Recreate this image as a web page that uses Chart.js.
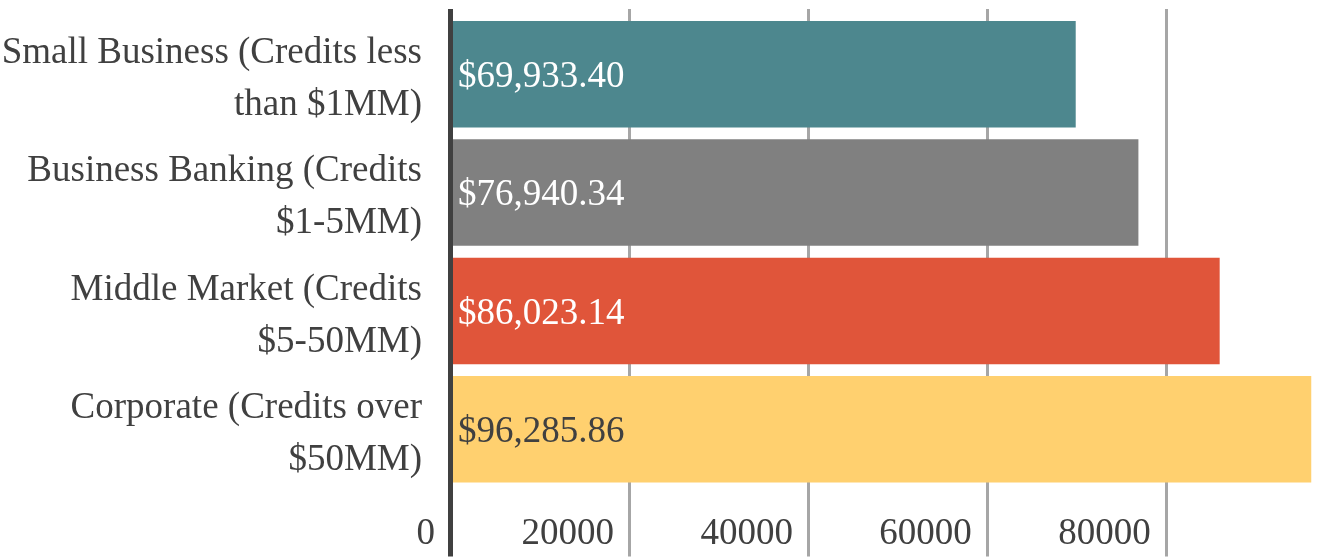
<!DOCTYPE html>
<html>
<head>
<meta charset="utf-8">
<script src="https://cdn.jsdelivr.net/npm/chart.js@4"></script>
<style>
  html, body { margin: 0; padding: 0; background: #fff; }
</style>
</head>
<body>
<canvas id="creditChart" width="1322" height="559"></canvas>
<script>
// data
const categories = [
    ['Small Business (Credits less', 'than $1MM)'],
    ['Business Banking (Credits', '$1-5MM)'],
    ['Middle Market (Credits', '$5-50MM)'],
    ['Corporate (Credits over', '$50MM)']
];
const amounts = [69933.40, 76940.34, 86023.14, 96285.86];
const amountLabels = ['$69,933.40', '$76,940.34', '$86,023.14', '$96,285.86'];
const xTicks = [0, 20000, 40000, 60000, 80000];

const barColors = ['#4d878e', '#808080', '#e0553a', '#ffd06f'];
const valueColors = ['#ffffff', '#ffffff', '#ffffff', '#404040'];
const textColor = '#404040';
const fontFamily = '"Liberation Serif", "DejaVu Serif", serif';
const fontSize = 37;

// gridlines reach above and below the plot, axis line sits on top of the bars
const gridAndLabels = {
    id: 'gridAndLabels',
    beforeDatasetsDraw(chart) {
        const { ctx, chartArea, scales: { x } } = chart;
        ctx.save();
        ctx.strokeStyle = '#a6a6a6';
        ctx.lineWidth = 3;
        xTicks.forEach(v => {
            if (v === 0) return;
            const px = Math.round(x.getPixelForValue(v)) + 0.5;
            ctx.beginPath();
            ctx.moveTo(px, chartArea.top - 6);
            ctx.lineTo(px, chartArea.bottom + 68);
            ctx.stroke();
        });
        ctx.fillStyle = textColor;
        ctx.font = fontSize + 'px ' + fontFamily;
        ctx.textAlign = 'right';
        ctx.textBaseline = 'alphabetic';
        xTicks.forEach(v => {
            ctx.fillText(String(v), x.getPixelForValue(v) - 15, chartArea.bottom + 55);
        });
        ctx.restore();
    },
    afterDatasetsDraw(chart) {
        const { ctx, chartArea, scales: { x } } = chart;
        ctx.save();
        // y axis line
        const zx = Math.round(x.getPixelForValue(0)) + 0.5;
        ctx.strokeStyle = '#404040';
        ctx.lineWidth = 5;
        ctx.beginPath();
        ctx.moveTo(zx, chartArea.top - 6);
        ctx.lineTo(zx, chartArea.bottom + 68);
        ctx.stroke();
        // value labels inside bars
        ctx.font = fontSize + 'px ' + fontFamily;
        ctx.textAlign = 'left';
        ctx.textBaseline = 'alphabetic';
        chart.getDatasetMeta(0).data.forEach((bar, i) => {
            ctx.fillStyle = valueColors[i];
            ctx.fillText(amountLabels[i], bar.base + 8, bar.y + fontSize * 0.34);
        });
        ctx.restore();
    }
};

const ctx = document.getElementById('creditChart').getContext('2d');
const creditChart = new Chart(ctx, {
    type: 'bar',
    data: {
        labels: categories,
        datasets: [{
            data: amounts,
            backgroundColor: barColors,
            borderWidth: 0,
            barPercentage: 0.9,
            categoryPercentage: 1
        }]
    },
    options: {
        indexAxis: 'y',
        responsive: false,
        animation: false,
        devicePixelRatio: 1,
        layout: { padding: { top: 15, right: 10.5, left: 0, bottom: 0 } },
        scales: {
            x: {
                type: 'linear',
                min: 0,
                max: Math.max(...amounts),
                grid: { display: false, drawTicks: false },
                border: { display: false },
                ticks: { display: false, stepSize: 20000, includeBounds: false },
                afterFit: scale => { scale.height = 70.5; }
            },
            y: {
                grid: { display: false, drawTicks: false },
                border: { display: false },
                ticks: {
                    color: textColor,
                    padding: 28,
                    labelOffset: 5,
                    font: { family: fontFamily, size: fontSize, lineHeight: 1.4 }
                },
                afterFit: scale => {
                    scale.width = 450;
                    scale.paddingTop = 0;
                    scale.paddingBottom = 0;
                }
            }
        },
        plugins: {
            legend: { display: false },
            tooltip: { enabled: false }
        }
    },
    plugins: [gridAndLabels]
});
</script>
</body>
</html>
